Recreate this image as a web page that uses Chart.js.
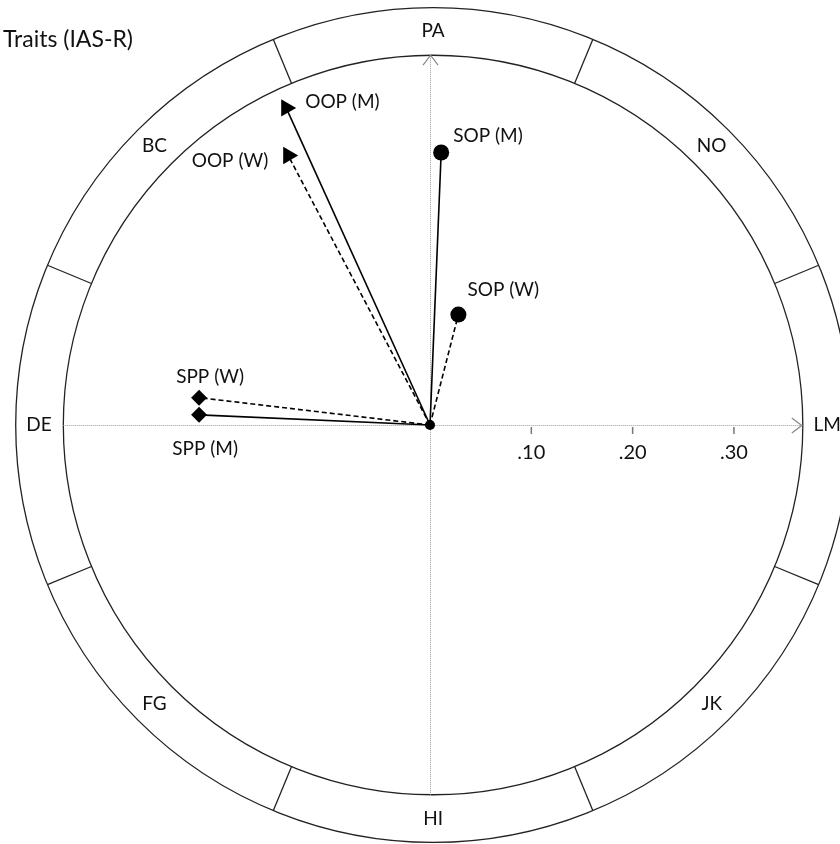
<!DOCTYPE html>
<html>
<head>
<meta charset="utf-8">
<script src="https://cdn.jsdelivr.net/npm/chart.js@4.4.0/dist/chart.umd.min.js"></script>
<style>
html,body{margin:0;padding:0;background:#fff;}
#wrap{width:840px;height:844px;}
</style>
</head>
<body>
<div id="wrap"><canvas id="circ" width="840" height="844"></canvas></div>
<script>
// octants, counter-clockwise starting at LM (0 deg)
const octants = ['LM','NO','PA','BC','DE','FG','HI','JK'];

// trait vectors (M = men, W = women)
const traits = ['OOP (M)','OOP (W)','SOP (M)','SOP (W)','SPP (M)','SPP (W)'];
const traitX = [-0.142, -0.140, 0.011, 0.028, -0.228, -0.228];
const traitY = [0.313, 0.266, 0.269, 0.109, 0.010, 0.027];

const tickVals = [0.10, 0.20, 0.30];
const tickLabels = ['.10', '.20', '.30'];

const FONT = 'Lato, "Open Sans", sans-serif';

// ring geometry in data units
const R_IN = 0.365, R_OUT = 0.412, R_LBL = 0.389, RING_CX = 0.003;

const markerStyle = { OOP: 'triangle', SOP: 'circle', SPP: 'rectRot' };
const markerSize  = { OOP: 10, SOP: 8, SPP: 8 };

// where each label sits relative to its marker (px)
const labelPos = {
  'OOP (M)': { dx: 19,  dy: -6,  align: 'left' },
  'OOP (W)': { dx: -20, dy: 5,   align: 'right' },
  'SOP (M)': { dx: 12,  dy: -17, align: 'left' },
  'SOP (W)': { dx: 9,   dy: -25, align: 'left' },
  'SPP (M)': { dx: 6,   dy: 34,  align: 'center' },
  'SPP (W)': { dx: 11,  dy: -21, align: 'center' }
};

const vectorSets = traits.map((name, i) => {
  const kind = name.slice(0, 3);
  const women = name.includes('(W)');
  return {
    label: name,
    data: [{ x: 0, y: 0 }, { x: traitX[i], y: traitY[i] }],
    showLine: true,
    borderColor: '#000',
    borderWidth: 1.6,
    borderDash: women ? [5, 3] : [],
    pointRadius: [0, markerSize[kind]],
    pointStyle: markerStyle[kind],
    pointRotation: kind === 'OOP' ? 90 : 0,
    pointBackgroundColor: '#000',
    pointBorderWidth: 0
  };
});

const centerSet = {
  label: 'origin',
  data: [{ x: 0, y: 0 }],
  pointRadius: 5,
  pointBackgroundColor: '#000',
  pointBorderWidth: 0,
  showLine: false
};

const circumplex = {
  id: 'circumplex',
  beforeDatasetsDraw(chart) {
    const { ctx, scales: { x, y } } = chart;
    const ox = x.getPixelForValue(0), oy = y.getPixelForValue(0);
    const u = v => x.getPixelForValue(v) - ox;
    const rcx = x.getPixelForValue(RING_CX);

    ctx.save();
    // rings
    ctx.strokeStyle = '#222';
    ctx.lineWidth = 1.3;
    [R_IN, R_OUT].forEach(r => {
      ctx.beginPath();
      ctx.arc(rcx, oy, u(r), 0, Math.PI * 2);
      ctx.stroke();
    });
    // octant dividers
    for (let k = 0; k < 8; k++) {
      const a = (22.5 + 45 * k) * Math.PI / 180;
      ctx.beginPath();
      ctx.moveTo(rcx + Math.cos(a) * u(R_IN), oy - Math.sin(a) * u(R_IN));
      ctx.lineTo(rcx + Math.cos(a) * u(R_OUT), oy - Math.sin(a) * u(R_OUT));
      ctx.stroke();
    }
    // octant labels
    ctx.fillStyle = '#111';
    ctx.font = '19px ' + FONT;
    ctx.textAlign = 'center';
    ctx.textBaseline = 'middle';
    octants.forEach((lbl, k) => {
      const a = 45 * k * Math.PI / 180;
      ctx.fillText(lbl, rcx + Math.cos(a) * u(R_LBL), oy - Math.sin(a) * u(R_LBL));
    });

    // dotted axes
    const xL = x.getPixelForValue(-0.362), xR = x.getPixelForValue(0.367);
    const yT = y.getPixelForValue(0.365), yB = y.getPixelForValue(-0.365);
    ctx.strokeStyle = '#9c9c9c';
    ctx.lineWidth = 1;
    ctx.setLineDash([1, 1]);
    ctx.beginPath();
    ctx.moveTo(xL, oy + 0.5); ctx.lineTo(xR, oy + 0.5);
    ctx.moveTo(ox + 0.5, yB); ctx.lineTo(ox + 0.5, yT);
    ctx.stroke();
    ctx.setLineDash([]);
    // open arrow heads
    ctx.strokeStyle = '#888';
    ctx.lineWidth = 1.2;
    ctx.beginPath();
    ctx.moveTo(xR - 10, oy - 7); ctx.lineTo(xR, oy + 0.5); ctx.lineTo(xR - 10, oy + 8);
    ctx.moveTo(ox - 7, yT + 10); ctx.lineTo(ox + 0.5, yT); ctx.lineTo(ox + 8, yT + 10);
    ctx.stroke();
    // ticks
    ctx.strokeStyle = '#777';
    ctx.lineWidth = 1.5;
    ctx.fillStyle = '#111';
    ctx.font = '20px ' + FONT;
    tickVals.forEach((v, i) => {
      const tx = x.getPixelForValue(v);
      ctx.beginPath();
      ctx.moveTo(tx, oy + 2); ctx.lineTo(tx, oy + 9);
      ctx.stroke();
      ctx.fillText(tickLabels[i], tx, oy + 28);
    });
    ctx.restore();
  },
  afterDatasetsDraw(chart) {
    const { ctx } = chart;
    ctx.save();
    ctx.fillStyle = '#111';
    ctx.textBaseline = 'middle';
    ctx.font = '19px ' + FONT;
    traits.forEach((name, i) => {
      const pt = chart.getDatasetMeta(i + 1).data[1];
      const p = labelPos[name];
      ctx.textAlign = p.align;
      ctx.fillText(name, pt.x + p.dx, pt.y + p.dy);
    });
    // title
    ctx.textAlign = 'left';
    ctx.font = '23px ' + FONT;
    ctx.fillText('Traits (IAS-R)', 3, 40);
    ctx.restore();
  }
};

new Chart(document.getElementById('circ'), {
  type: 'scatter',
  data: { datasets: [centerSet, ...vectorSets] },
  options: {
    responsive: false,
    animation: false,
    layout: { padding: 0, autoPadding: false },
    plugins: { legend: { display: false }, tooltip: { enabled: false } },
    scales: {
      x: { type: 'linear', min: -0.4245, max: 0.4047, display: false },
      y: { type: 'linear', min: -0.4136, max: 0.4195, display: false }
    }
  },
  plugins: [circumplex]
});
</script>
</body>
</html>
